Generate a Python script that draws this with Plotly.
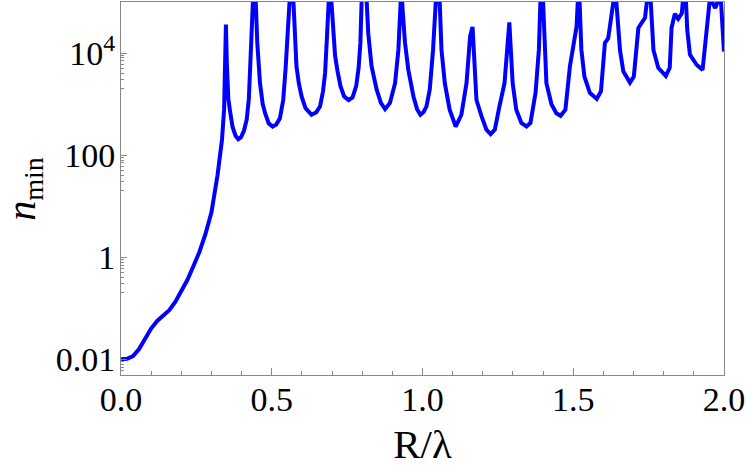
import plotly.graph_objects as go

# R/lambda values
r_over_lambda = [
    0.000, 0.020, 0.040, 0.060, 0.080, 0.100, 0.120, 0.140, 0.160, 0.180,
    0.200, 0.220, 0.240, 0.260, 0.280, 0.300, 0.320, 0.335, 0.342, 0.345,
    0.348, 0.351, 0.356, 0.362, 0.370, 0.380, 0.389, 0.398, 0.408, 0.417,
    0.424, 0.429, 0.434, 0.441, 0.447, 0.452, 0.461, 0.470, 0.478, 0.490,
    0.503, 0.515, 0.527, 0.538, 0.546, 0.552, 0.556, 0.564, 0.572, 0.577,
    0.582, 0.590, 0.599, 0.612, 0.632, 0.648, 0.660, 0.670, 0.677, 0.683,
    0.688, 0.693, 0.698, 0.703, 0.710, 0.718, 0.728, 0.740, 0.755, 0.768,
    0.780, 0.788, 0.794, 0.798, 0.806, 0.815, 0.820, 0.831, 0.848, 0.862,
    0.876, 0.892, 0.909, 0.920, 0.927, 0.930, 0.934, 0.942, 0.953, 0.970,
    0.982, 0.993, 1.003, 1.013, 1.024, 1.035, 1.044, 1.050, 1.057, 1.063,
    1.074, 1.090, 1.110, 1.129, 1.146, 1.158, 1.166, 1.179, 1.196, 1.212,
    1.226, 1.240, 1.255, 1.272, 1.288, 1.299, 1.311, 1.328, 1.345, 1.358,
    1.375, 1.386, 1.391, 1.395, 1.400, 1.411, 1.428, 1.444, 1.458, 1.474,
    1.489, 1.511, 1.515, 1.518, 1.521, 1.527, 1.537, 1.555, 1.578, 1.592,
    1.605, 1.616, 1.633, 1.638, 1.643, 1.655, 1.666, 1.688, 1.701, 1.716,
    1.738, 1.743, 1.750, 1.757, 1.766, 1.782, 1.807, 1.820, 1.826, 1.837,
    1.848, 1.860, 1.862, 1.868, 1.874, 1.878, 1.887, 1.909, 1.929, 1.945,
    1.952, 1.956, 1.965, 1.971, 1.979, 1.985, 1.990, 2.000,
]

n_min = [
    0.0100, 0.0102, 0.0115, 0.0158, 0.0251, 0.0398, 0.0562, 0.0724, 0.0912, 0.132,
    0.214, 0.355, 0.661, 1.26, 2.82, 7.59, 39.8, 200, 794, 3980,
    36300, 6310, 1260, 708, 355, 240, 204, 224, 302, 501,
    1260, 6310, 1e5, 3.2e5, 1e5, 15800, 2570, 1000, 661, 417,
    363, 398, 525, 1200, 5010, 31600, 1e5, 3.2e5, 1e5, 20000,
    5500, 2510, 1410, 832, 617, 692, 891, 1780, 4070, 20000,
    1e5, 3.2e5, 1e5, 25100, 8910, 4470, 2240, 1410, 1200, 1350,
    2240, 5010, 15800, 1e5, 3.2e5, 1e5, 24500, 5500, 1910, 1050,
    794, 1050, 2570, 11500, 1e5, 2e5, 70800, 15800, 4680, 1410,
    794, 617, 692, 891, 1910, 11500, 1e5, 3.2e5, 1e5, 11500,
    2570, 776, 363, 617, 2570, 21400, 32400, 1200, 575, 316,
    257, 316, 891, 2570, 39800, 2570, 776, 427, 363, 427,
    1660, 11500, 1e5, 3.2e5, 1e5, 2570, 977, 661, 589, 776,
    5500, 33100, 1e5, 2e5, 1e5, 11500, 3470, 1660, 1260, 1780,
    15800, 19500, 1e5, 2e5, 1e5, 11500, 4370, 2630, 3470, 30900,
    49000, 1e5, 2e5, 1e5, 11500, 5130, 3550, 5130, 30900, 58900,
    46800, 60300, 1e5, 2e5, 1e5, 28800, 9330, 5890, 4680, 44700,
    1e5, 112000, 89100, 75900, 1e5, 2e5, 1e5, 10700,
]

y_tick_vals = [0.01, 1, 100, 10000]
y_tick_text = ['0.01', '1', '100', '10<sup>4</sup>']
y_minor_vals = [m * d for d in (0.001, 0.1, 10, 1000) for m in range(2, 10)]

x_tick_vals = [0.0, 0.5, 1.0, 1.5, 2.0]
x_minor_vals = [i / 10 for i in range(21)]

fig = go.Figure()
fig.add_trace(go.Scatter(x=r_over_lambda, y=n_min, mode='lines',
                         line=dict(color='#0000ff', width=4), showlegend=False))

fig.update_layout(
    width=747, height=467,
    margin=dict(l=121, r=23, t=2, b=92),
    paper_bgcolor='white', plot_bgcolor='white',
    font=dict(family='Liberation Serif', size=34, color='black'),
)
fig.update_xaxes(
    range=[0, 2], showgrid=False, zeroline=False,
    showline=True, linecolor='#888888', linewidth=1, mirror=True,
    tickvals=x_tick_vals, ticktext=['0.0', '0.5', '1.0', '1.5', '2.0'],
    ticks='inside', ticklen=7, tickcolor='#888888', ticklabelstandoff=-6,
    minor=dict(tickvals=x_minor_vals, ticks='inside', ticklen=4, tickcolor='#888888'),
    title=dict(text='R/λ', standoff=18),
)
fig.update_yaxes(
    type='log', range=[-2.31, 5.0], showgrid=False, zeroline=False,
    showline=True, linecolor='#888888', linewidth=1, mirror=True,
    tickvals=y_tick_vals, ticktext=y_tick_text,
    ticks='inside', ticklen=6, tickcolor='#888888', ticklabelstandoff=-2,
    minor=dict(tickvals=y_minor_vals, ticks='inside', ticklen=3, tickcolor='#888888'),
)

# y title as an annotation so it can sit close to the left edge
fig.add_annotation(text='<i>n</i><sub>min</sub>', xref='paper', yref='paper',
                   x=-0.162, y=0.5, xanchor='center', yanchor='middle',
                   textangle=-90, showarrow=False, font=dict(size=40))

# drop the page's default body margin so the figure sits at the window corner
fig.write_html("out.html", config={'displayModeBar': False},
               post_script="document.body.style.margin='0px';")
